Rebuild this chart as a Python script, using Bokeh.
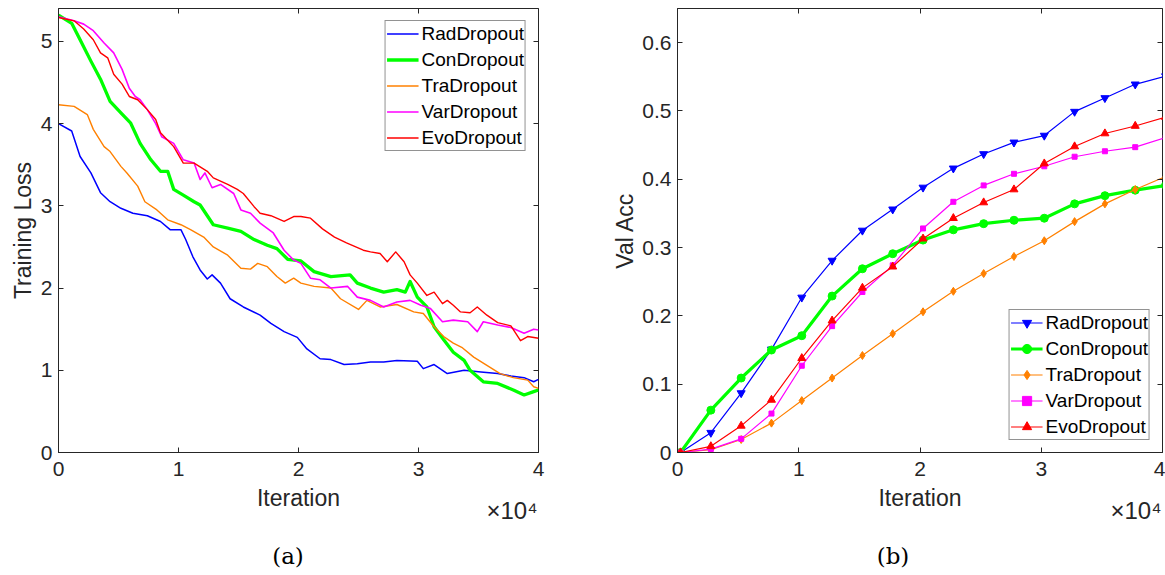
from bokeh.plotting import figure
from bokeh.layouts import row, column
from bokeh.models import FixedTicker, LinearAxis, Range1d, Title, Div
from bokeh.embed import file_html
from bokeh.resources import INLINE

# ---------------- data: training loss (left) ----------------
rad_loss_it = [0, 1100, 1800, 2700, 3500, 4300, 5200, 6200, 7400, 8500, 9300, 10200, 10600,
               11200, 11800, 12400, 12800, 13500, 14300, 15400, 16800, 17700, 18800, 19900,
               20700, 21800, 22700, 23800, 24900, 26000, 27100, 28200, 29900, 30400, 31300,
               32400, 33800, 35200, 36600, 37700, 38800, 39600, 40000]
rad_loss = [4.00, 3.91, 3.60, 3.40, 3.16, 3.05, 2.97, 2.91, 2.88, 2.81, 2.71, 2.71, 2.59,
            2.38, 2.22, 2.11, 2.16, 2.06, 1.87, 1.77, 1.67, 1.57, 1.47, 1.40,
            1.26, 1.14, 1.13, 1.07, 1.08, 1.10, 1.10, 1.12, 1.11, 1.02, 1.07,
            0.96, 1.00, 0.98, 0.96, 0.93, 0.91, 0.86, 0.89]

con_loss_it = [0, 1100, 1800, 2700, 3500, 4300, 5200, 6000, 6800, 7700, 8500, 9100, 9600,
               10400, 11300, 11800, 12900, 14100, 15200, 16300, 17400, 18200, 19100, 20200,
               21300, 22700, 24300, 24900, 26000, 27100, 28200, 28900, 29300, 29900, 30700,
               31300, 32100, 32900, 33800, 34300, 35400, 36600, 37900, 38800, 39600, 40000]
con_loss = [5.32, 5.22, 5.02, 4.76, 4.54, 4.27, 4.13, 4.01, 3.76, 3.56, 3.42, 3.42, 3.20,
            3.13, 3.05, 3.01, 2.77, 2.73, 2.69, 2.59, 2.52, 2.48, 2.35, 2.33,
            2.20, 2.14, 2.16, 2.06, 2.00, 1.95, 1.98, 1.95, 2.08, 1.89, 1.77,
            1.53, 1.37, 1.22, 1.12, 1.00, 0.86, 0.84, 0.76, 0.70, 0.74, 0.76]

tra_loss_it = [0, 1300, 2400, 2900, 3800, 4300, 5200, 5700, 6600, 7200, 8200, 9100, 10200,
               11000, 12100, 12900, 14100, 15200, 16000, 16600, 17400, 18200, 18900, 19600,
               20200, 21300, 22700, 23500, 25000, 25700, 26800, 28200, 29600, 30400, 31300,
               32100, 32900, 33600, 34600, 35700, 36800, 37900, 39100, 39600, 40000]
tra_loss = [4.23, 4.21, 4.11, 3.93, 3.72, 3.66, 3.48, 3.40, 3.24, 3.05, 2.95, 2.83, 2.77,
            2.71, 2.62, 2.50, 2.40, 2.24, 2.23, 2.30, 2.26, 2.14, 2.06, 2.12,
            2.06, 2.02, 2.00, 1.87, 1.74, 1.85, 1.77, 1.80, 1.71, 1.69, 1.53,
            1.41, 1.33, 1.28, 1.16, 1.06, 0.96, 0.91, 0.88, 0.80, 0.78]

var_loss_it = [0, 1300, 2100, 2900, 3800, 4600, 5300, 5900, 6400, 6800, 7400, 8100, 8600,
               9600, 10400, 11300, 11800, 12200, 12800, 13500, 14600, 15200, 16000, 16800,
               17900, 18800, 19600, 20200, 21000, 21800, 22700, 24100, 24900, 26000, 27100,
               28200, 29300, 30200, 31000, 32000, 32900, 34100, 34900, 35400, 36600, 37700,
               38800, 39600, 40000]
var_loss = [5.30, 5.25, 5.21, 5.13, 4.98, 4.86, 4.66, 4.43, 4.33, 4.29, 4.17, 4.00, 3.84,
            3.76, 3.56, 3.52, 3.32, 3.40, 3.22, 3.26, 3.15, 2.95, 2.91, 2.79,
            2.67, 2.46, 2.34, 2.30, 2.12, 2.10, 2.00, 2.02, 1.89, 1.85, 1.77,
            1.83, 1.85, 1.79, 1.75, 1.59, 1.61, 1.59, 1.47, 1.59, 1.55, 1.52,
            1.45, 1.50, 1.49]

evo_loss_it = [0, 1300, 2100, 2900, 3500, 4100, 4600, 5300, 5900, 6600, 7400, 8100, 8500,
               9600, 10400, 11300, 12400, 12900, 14100, 14900, 15400, 16300, 16800, 17700,
               18800, 19600, 20200, 21000, 22000, 23000, 24000, 25400, 26000, 26800, 27400,
               28100, 28800, 29300, 29900, 30700, 31300, 32000, 32400, 32900, 33500, 34300,
               34900, 35700, 36600, 37700, 38500, 39100, 40000]
evo_loss = [5.29, 5.25, 5.15, 5.02, 4.86, 4.80, 4.60, 4.48, 4.33, 4.29, 4.17, 4.05, 3.89,
            3.72, 3.52, 3.52, 3.42, 3.34, 3.26, 3.20, 3.15, 2.99, 2.91, 2.88,
            2.81, 2.87, 2.87, 2.85, 2.72, 2.62, 2.55, 2.46, 2.44, 2.42, 2.32,
            2.44, 2.32, 2.16, 2.06, 1.91, 1.95, 1.81, 1.85, 1.79, 1.71, 1.70,
            1.77, 1.67, 1.58, 1.54, 1.36, 1.41, 1.39]

# ---------------- data: validation accuracy (right) ----------------
iters_val = [250, 2750, 5250, 7750, 10250, 12750, 15250, 17750, 20250,
             22750, 25250, 27750, 30250, 32750, 35250, 37750, 40250]
rad_val = [0.0, 0.029, 0.087, 0.151, 0.227, 0.281, 0.325, 0.356, 0.388,
           0.416, 0.437, 0.454, 0.464, 0.499, 0.519, 0.539, 0.551]
con_val = [0.0, 0.062, 0.109, 0.150, 0.171, 0.229, 0.269, 0.291, 0.311,
           0.326, 0.335, 0.340, 0.343, 0.364, 0.376, 0.384, 0.391]
tra_val = [0.0, 0.004, 0.019, 0.043, 0.076, 0.109, 0.142, 0.174, 0.206,
           0.236, 0.262, 0.287, 0.310, 0.338, 0.364, 0.385, 0.404]
var_val = [0.0, 0.005, 0.020, 0.057, 0.127, 0.185, 0.235, 0.274, 0.328,
           0.367, 0.391, 0.408, 0.419, 0.433, 0.441, 0.447, 0.461]
evo_val = [0.0, 0.009, 0.039, 0.077, 0.138, 0.193, 0.241, 0.272, 0.313,
           0.343, 0.366, 0.385, 0.423, 0.448, 0.467, 0.478, 0.491]

series_names = ["RadDropout", "ConDropout", "TraDropout", "VarDropout", "EvoDropout"]
colors = ["#0000FF", "#00FF00", "#FF8000", "#FF00FF", "#FF0000"]
x_ticks = [0, 10000, 20000, 30000, 40000]
x_tick_labels = ["0", "1", "2", "3", "4"]
loss_ticks = [0, 1, 2, 3, 4, 5]
val_ticks = [0, 0.1, 0.2, 0.3, 0.4, 0.5, 0.6]
val_tick_labels = ["0", "0.1", "0.2", "0.3", "0.4", "0.5", "0.6"]

FONT = "Liberation Sans"
DARK = "#262626"
TICK_SIZE = "21px"
LABEL_SIZE = "23px"
FIG_H = 540


def style_axis(ax, ticks, labels=None, show_labels=True, line=True):
    ax.ticker = FixedTicker(ticks=ticks)
    if labels is not None:
        ax.major_label_overrides = {t: l for t, l in zip(ticks, labels)}
    ax.major_tick_in = 5
    ax.major_tick_out = 0
    ax.minor_tick_line_color = None
    ax.major_tick_line_color = DARK
    ax.major_tick_line_width = 1
    ax.axis_line_color = DARK if line else None
    ax.major_label_text_font = FONT
    if show_labels:
        ax.major_label_text_color = DARK
        ax.major_label_text_font_size = TICK_SIZE
        ax.major_label_standoff = 9
    else:
        ax.major_label_text_color = None
        ax.major_label_text_font_size = "0px"
        ax.major_label_standoff = 0
    ax.axis_label_text_font = FONT
    ax.axis_label_text_font_size = LABEL_SIZE
    ax.axis_label_text_font_style = "normal"
    ax.axis_label_text_color = DARK


def make_fig(width, ymax, min_left, min_right):
    p = figure(width=width, height=FIG_H, output_backend="svg", toolbar_location=None,
               x_range=Range1d(0, 40000), y_range=Range1d(0, ymax),
               min_border_left=min_left, min_border_right=min_right,
               min_border_top=8, min_border_bottom=FIG_H - 8 - 444)
    p.grid.visible = False
    p.outline_line_color = DARK
    p.outline_line_width = 1
    p.background_fill_color = "white"
    p.border_fill_color = "white"
    return p


def add_decor(p, yticks, ylabels, ylabel, ystandoff):
    style_axis(p.xaxis[0], x_ticks, x_tick_labels)
    p.xaxis[0].axis_label = "Iteration"
    p.xaxis[0].axis_label_standoff = 6
    style_axis(p.yaxis[0], yticks, ylabels)
    p.yaxis[0].major_label_standoff = 6
    p.yaxis[0].axis_label = ylabel
    p.yaxis[0].axis_label_standoff = ystandoff
    top = LinearAxis()
    style_axis(top, x_ticks, show_labels=False, line=False)
    p.add_layout(top, "above")
    right = LinearAxis()
    style_axis(right, yticks, show_labels=False, line=False)
    p.add_layout(right, "right")
    exp = Title(text="\u00d710\u2074", align="right", offset=1, standoff=-34,
                vertical_align="top", text_font=FONT, text_font_size="24px",
                text_font_style="normal", text_color=DARK)
    p.add_layout(exp, "below")


def caption(text, width, pad_left, pad_right):
    html = ('<div style="box-sizing:border-box; width:%dpx; text-align:center; '
            'padding-left:%dpx; padding-right:%dpx; '
            'font-family:\'DejaVu Serif\'; font-size:23px; line-height:28px; '
            'padding-top:2px; color:#000;">%s</div>' % (width, pad_left, pad_right, text))
    return Div(text=html, width=width, height=575 - FIG_H, margin=0)


def style_legend(p, loc):
    lg = p.legend[0]
    lg.location = loc
    lg.margin = 12
    lg.padding = 1
    lg.spacing = 3
    lg.glyph_width = 32
    lg.glyph_height = 23
    lg.label_height = 23
    lg.label_standoff = 3
    lg.label_text_font = FONT
    lg.label_text_font_size = "19px"
    lg.label_text_color = "#000000"
    lg.border_line_color = DARK
    lg.border_line_width = 1
    lg.background_fill_color = "white"
    lg.background_fill_alpha = 1.0


# ---------------- left: training loss ----------------
p1 = make_fig(588, 5.4, 58, 50)
loss_x = [rad_loss_it, con_loss_it, tra_loss_it, var_loss_it, evo_loss_it]
loss_y = [rad_loss, con_loss, tra_loss, var_loss, evo_loss]
loss_widths = [1.5, 3.3, 1.4, 1.6, 1.4]
for name, col, xs, ys, lw in zip(series_names, colors, loss_x, loss_y, loss_widths):
    p1.line(xs, ys, line_color=col, line_width=lw, line_join="round", legend_label=name)
add_decor(p1, loss_ticks, None, "Training Loss", 2)
style_legend(p1, "top_right")

# ---------------- right: validation accuracy ----------------
p2 = make_fig(577, 0.65, 89, 3)
val_series = [rad_val, con_val, tra_val, var_val, evo_val]
val_widths = [1.2, 3.2, 1.2, 1.2, 1.2]
markers = ["inverted_triangle", "circle", "diamond", "square", "triangle"]
msizes = [8, 8, 8, 5, 8]
for name, col, ys, lw, mk, ms in zip(series_names, colors, val_series, val_widths, markers, msizes):
    p2.line(iters_val, ys, line_color=col, line_width=lw, legend_label=name)
    p2.scatter(iters_val, ys, marker=mk, size=ms, line_color=col, fill_color=col,
               legend_label=name)
add_decor(p2, val_ticks, val_tick_labels, "Val Acc", 1)
style_legend(p2, "bottom_right")

layout = row(column(p1, caption("(a)", 588, 0, 12), spacing=0),
             column(p2, caption("(b)", 577, 33, 0), spacing=0), spacing=0)
open("out.html", "w").write(file_html(layout, INLINE))
